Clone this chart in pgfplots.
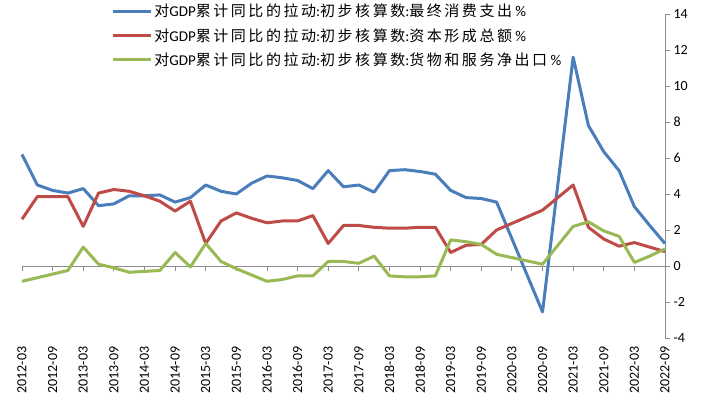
\documentclass[border=0pt]{standalone}
\usepackage{fontspec}
\setmainfont{Carlito}
\newfontfamily\cjk[LetterSpace=17]{Noto Sans CJK SC}
\usepackage{pgfplots}
\pgfplotsset{compat=1.18}

\definecolor{cblue}{HTML}{4A7EBB}
\definecolor{cred}{HTML}{BE4B48}
\definecolor{cgreen}{HTML}{98B954}
\definecolor{axgray}{HTML}{8C8C8C}

\newcommand{\lab}[1]{{\cjk 对}GDP{\cjk 累计同比的拉动}:{\cjk 初步核算数}:{\cjk #1} \%}

\begin{document}
\begin{tikzpicture}
\begin{axis}[
  scale only axis,
  width=643pt, height=324pt,
  xmin=0, xmax=42,
  ymin=-4, ymax=14,
  ytick={-4,-2,...,14},
  axis y line*=right,
  axis x line*=bottom,
  x axis line style={draw=none},
  xtick style={draw=none},
  y axis line style={axgray, line width=0.9pt},
  ytick style={axgray, line width=0.9pt},
  tick align=outside,
  major tick length=5pt,
  xtick={0,2,...,42},
  xticklabels={2012-03,2012-09,2013-03,2013-09,2014-03,2014-09,2015-03,2015-09,2016-03,2016-09,2017-03,2017-09,2018-03,2018-09,2019-03,2019-09,2020-03,2020-09,2021-03,2021-09,2022-03,2022-09},
  x tick label style={rotate=90, anchor=east, font=\fontsize{14}{16}\selectfont},
  y tick label style={font=\fontsize{14}{16}\selectfont},
  /pgf/number format/assume math mode=true,
  legend style={at={(0.139,1.037)}, anchor=north west, draw=none, fill=none,
    font=\fontsize{15}{17}\selectfont, row sep=6pt, inner sep=0pt},
  legend cell align=left,
  legend image code/.code={\draw[#1, line width=2.8pt] (0pt,0pt) -- (38pt,0pt);},
  every axis plot/.append style={line width=3pt, line join=round, no markers},
  clip=false,
]
\draw[axgray, line width=0.9pt] (axis cs:0,0) -- (axis cs:42,0);
\pgfplotsinvokeforeach{0,2,...,42}{\draw[axgray, line width=0.9pt] (axis cs:#1,0) -- ++(0pt,-5pt);}

\addplot[cblue] coordinates {
(0,6.2) (1,4.5) (2,4.2) (3,4.05) (4,4.3) (5,3.35) (6,3.45) (7,3.9) (8,3.9) (9,3.95)
(10,3.55) (11,3.8) (12,4.5) (13,4.15) (14,4.0) (15,4.6) (16,5.0) (17,4.9) (18,4.75) (19,4.3)
(20,5.3) (21,4.4) (22,4.5) (23,4.1) (24,5.3) (25,5.35) (26,5.25) (27,5.1) (28,4.2) (29,3.8)
(30,3.75) (31,3.55) (34,-2.55) (36,11.6) (37,7.8) (38,6.35) (39,5.3) (40,3.3) (41,2.25) (42,1.25)
};
\addlegendentry{\lab{最终消费支出}}
\addplot[cred] coordinates {
(0,2.6) (1,3.85) (2,3.85) (3,3.85) (4,2.2) (5,4.05) (6,4.25) (7,4.15) (8,3.9) (9,3.6)
(10,3.05) (11,3.6) (12,1.25) (13,2.5) (14,2.95) (15,2.65) (16,2.4) (17,2.5) (18,2.5) (19,2.8)
(20,1.25) (21,2.25) (22,2.25) (23,2.15) (24,2.1) (25,2.1) (26,2.15) (27,2.15) (28,0.75) (29,1.15)
(30,1.2) (31,2.0) (34,3.1) (36,4.5) (37,2.15) (38,1.5) (39,1.1) (40,1.3) (41,1.05) (42,0.8)
};
\addlegendentry{\lab{资本形成总额}}
\addplot[cgreen] coordinates {
(0,-0.85) (1,-0.65) (2,-0.45) (3,-0.25) (4,1.05) (5,0.1) (6,-0.1) (7,-0.35) (8,-0.3) (9,-0.25)
(10,0.75) (11,-0.05) (12,1.25) (13,0.25) (14,-0.15) (15,-0.5) (16,-0.85) (17,-0.75) (18,-0.55) (19,-0.55)
(20,0.25) (21,0.25) (22,0.15) (23,0.55) (24,-0.55) (25,-0.6) (26,-0.6) (27,-0.55) (28,1.45) (29,1.35)
(30,1.2) (31,0.65) (34,0.1) (36,2.2) (37,2.45) (38,1.95) (39,1.65) (40,0.2) (41,0.55) (42,0.95)
};
\addlegendentry{\lab{货物和服务净出口}}
\end{axis}
\pgfresetboundingbox
\path (-22pt,-74pt) rectangle (693pt,338pt);
\end{tikzpicture}
\end{document}
